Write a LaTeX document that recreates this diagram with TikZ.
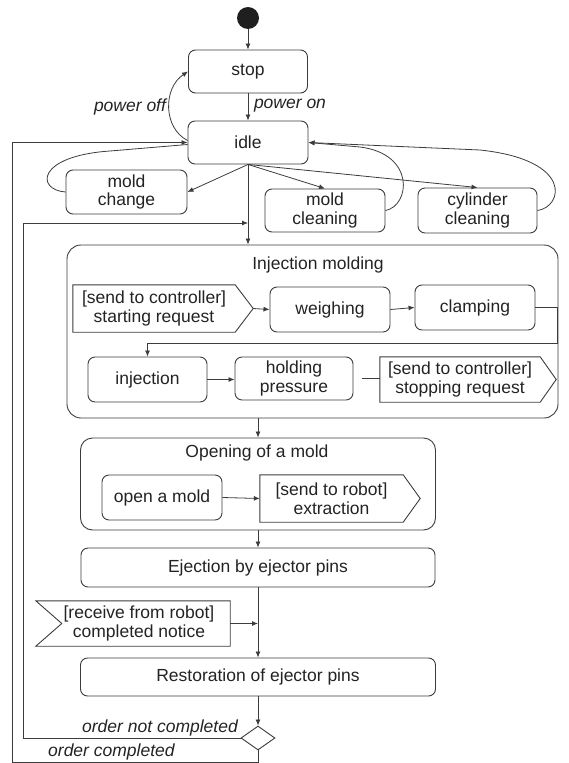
\documentclass[tikz,border=0pt]{standalone}
\usepackage{fontspec}
\setmainfont{Liberation Sans}
\usetikzlibrary{arrows.meta,calc,shapes.geometric}
\definecolor{lc}{RGB}{60,60,60}
\definecolor{tc}{RGB}{35,35,35}
\begin{document}
\begin{tikzpicture}[x=1pt,y=-1pt,
  every node/.style={font=\fontsize{17.5}{18.5}\selectfont, text=tc},
  state/.style={draw=lc, line width=0.9pt, rounded corners=7pt, fill=white, align=center, inner sep=0pt},
  group/.style={draw=lc, line width=0.9pt, rounded corners=14pt, inner sep=0pt},
  sigtext/.style={align=center, inner sep=0pt},
  sigline/.style={draw=lc, line width=0.9pt, line join=miter},
  flow/.style={draw=lc, line width=0.8pt, -{Latex[length=6pt,width=5pt]}},
  wire/.style={draw=lc, line width=0.8pt},
  guard/.style={font=\fontsize{17.5}{18.5}\selectfont\itshape, inner sep=0pt},
  title/.style={inner sep=0pt},
]
\useasboundingbox (0,0) rectangle (569,763);

% ---------- top level states ----------
\node[circle, fill=black!88, minimum size=22pt, inner sep=0pt] (start) at (248,18) {};
\node[state, minimum width=119pt, minimum height=43pt] (stop) at (248,71.5) {stop};
\node[state, minimum width=120pt, minimum height=43pt] (idle) at (248,142.5) {idle};
\node[state, minimum width=121pt, minimum height=44pt] (moldchange) at (126.5,192) {mold\\change};
\node[state, minimum width=120pt, minimum height=43pt] (moldclean) at (325,210.5) {mold\\cleaning};
\node[state, minimum width=119pt, minimum height=45pt] (cylclean) at (477.5,210.5) {cylinder\\cleaning};

\node[guard] (lblon) at (290,106) {power on};
\node[guard] (lbloff) at (130,107) {power off};

% ---------- injection molding ----------
\node[group, minimum width=491pt, minimum height=173pt] (injgrp) at (312.5,331.5) {};
\node[title] (injtitle) at (318,265) {Injection molding};

\node[sigtext, minimum width=162pt, minimum height=47pt] (startreq) at (154,308.5) {[send to controller]\\starting request};
\draw[sigline] (startreq.north west) -- (startreq.north east) -- ($(startreq.east)+(18,0)$) coordinate (startreqtip)
  -- (startreq.south east) -- (startreq.south west) -- cycle;
\node[state, minimum width=120pt, minimum height=45pt] (weigh) at (330,309.5) {weighing};
\node[state, minimum width=120pt, minimum height=45pt] (clamp) at (475,307.5) {clamping};

\node[state, minimum width=119pt, minimum height=45pt] (inj) at (147.5,379.5) {injection};
\node[state, minimum width=118pt, minimum height=43pt] (hold) at (294,378.5) {holding\\pressure};
\node[sigtext, minimum width=160pt, minimum height=45pt] (stopreq) at (460,379.5) {[send to controller]\\stopping request};
\draw[sigline] (stopreq.north west) -- (stopreq.north east) -- ($(stopreq.east)+(16,0)$)
  -- (stopreq.south east) -- (stopreq.south west) -- cycle;

% ---------- opening of a mold ----------
\node[group, rounded corners=12pt, minimum width=355pt, minimum height=92pt] (opengrp) at (258,484) {};
\node[title] (opentitle) at (257,453) {Opening of a mold};
\node[state, minimum width=120pt, minimum height=45pt] (openmold) at (162,497.5) {open a mold};
\node[sigtext, minimum width=143pt, minimum height=47pt] (extract) at (331.5,498.5) {[send to robot]\\extraction};
\draw[sigline] (extract.north west) -- (extract.north east) -- ($(extract.east)+(17,0)$)
  -- (extract.south east) -- (extract.south west) -- cycle;

% ---------- ejection and restoration ----------
\node[state, minimum width=354pt, minimum height=39pt] (eject) at (258,567.5) {Ejection by ejector pins};
\node[sigtext, minimum width=194pt, minimum height=45pt] (notice) at (133,623.5) {\hspace*{12pt}[receive from robot]\\\hspace*{12pt}completed notice};
\draw[sigline] (notice.north west) -- (notice.north east) -- (notice.south east) -- (notice.south west)
  -- ($(notice.west)+(26,0)$) -- cycle;
\node[state, minimum width=355pt, minimum height=38pt] (restore) at (258,677) {Restoration of ejector pins};
\node[diamond, draw=lc, line width=0.9pt, fill=white, minimum width=34pt, minimum height=24pt, inner sep=0pt] (dec) at (258,738) {};

\node[guard, anchor=east] (lblnot) at (238,728) {order not completed};
\node[guard, anchor=west] (lbldone) at (48,752) {order completed};

% ---------- connectors ----------
\draw[flow] (start.south) -- (start.south |- stop.north);
\draw[flow] (stop.south) -- (stop.south |- idle.north);
\draw[flow] ($(idle.west)+(0,-2)$) .. controls (163,128) and (163,88) .. (stop.west);

\draw[flow] (idle.south) -- (moldchange.east);
\draw[flow] (idle.south) -- (moldclean.north);
\draw[flow] (idle.south) -- (cylclean.north);
\draw[flow] (idle.south) -- (idle.south |- injgrp.north);

\draw[wire] (moldchange.west) .. controls (36,190) and (36,156) .. (110,151) -- ($(idle.west)+(0,2)$);
\draw[flow] (moldclean.east) .. controls (410,206) and (416,154) .. (360,147) -- (idle.east);
\draw[flow] (cylclean.east) .. controls (563,207) and (574,160) .. (480,150) -- (idle.east);

\draw[flow] (startreqtip) -- (weigh.west);
\draw[flow] (weigh.east) -- (clamp.west);
\coordinate (turn) at (557,343);
\draw[flow] (clamp.east) -| (turn) -| (inj.north);
\draw[flow] (inj.east) -- (inj.east -| hold.west);
\draw[wire, shorten <=9pt] (hold.east) -- (hold.east -| stopreq.west);

\draw[flow] (injgrp.south -| opengrp.north) -- (opengrp.north);
\draw[flow] (openmold.east) -- (extract.west);
\draw[flow] (opengrp.south) -- (eject.north);
\draw[flow] (eject.south) -- (restore.north);
\draw[flow] (notice.east) -- (notice.east -| eject.south);
\draw[flow] (restore.south) -- (dec.north);

\coordinate (loopback) at (23,738);
\coordinate (merge) at (248,223);
\draw[flow] (dec.west) -- (loopback) |- (merge);
\coordinate (outer) at (12,762);
\draw[flow] (dec.south) |- (outer) |- (idle.west);
\end{tikzpicture}
\end{document}
